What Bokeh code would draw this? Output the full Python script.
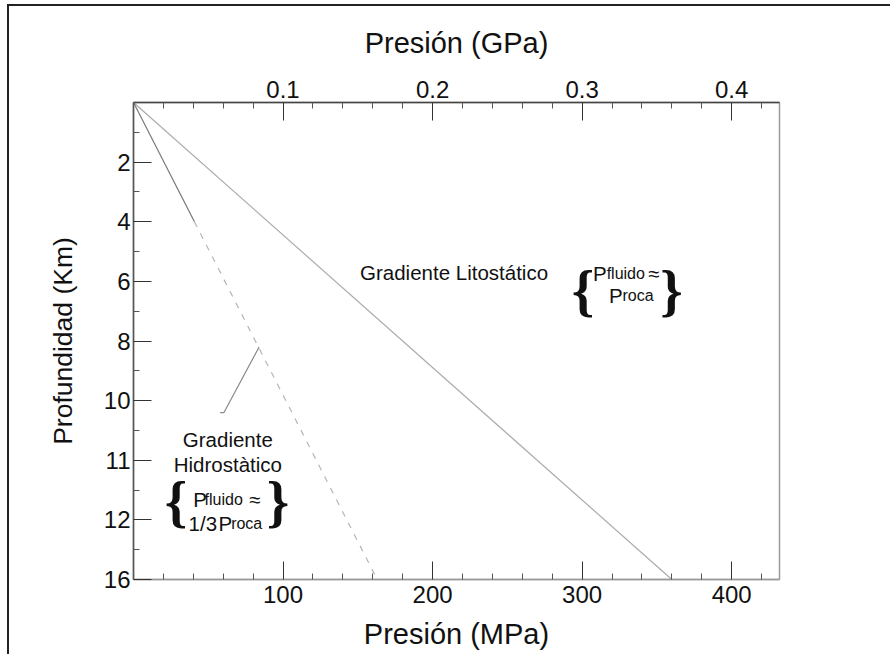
from bokeh.plotting import figure
from bokeh.models import Range1d, LinearAxis, FixedTicker, Label
from bokeh.embed import file_html
from bokeh.resources import INLINE

# ---------------- data ----------------
litho_depth_km = [0, 16]
litho_pressure_mpa = [0, 360]

hydro_solid_depth_km = [0, 4]
hydro_solid_pressure_mpa = [0, 40.75]
hydro_dash_depth_km = [4, 16]
hydro_dash_pressure_mpa = [40.75, 163]

leader_pressure_mpa = [58, 60.5, 84]
leader_depth_km = [10.4, 10.4, 8.2]

x_major_ticks = [100, 200, 300, 400]
x_minor_ticks = [20, 40, 60, 80, 120, 140, 160, 180, 220, 240, 260, 280,
                 320, 340, 360, 380, 420]
gpa_major_ticks = [0.1, 0.2, 0.3, 0.4]
gpa_minor_ticks = [0.02, 0.04, 0.06, 0.08, 0.12, 0.14, 0.16, 0.18, 0.22, 0.24,
                   0.26, 0.28, 0.32, 0.34, 0.36, 0.38, 0.42]
y_major_ticks = [2, 4, 6, 8, 10, 12, 14, 16]
y_tick_labels = ["2", "4", "6", "8", "10", "11", "12", "16"]
y_minor_ticks = [1, 3, 5, 7, 9, 11, 13, 15]

FONT = "Liberation Sans"
BRACE_FONT = "Liberation Serif"

p = figure(width=883, height=650,
           x_range=Range1d(0, 432), y_range=Range1d(16, 0),
           output_backend="svg", toolbar_location=None,
           min_border_left=124, min_border_right=113,
           min_border_top=96, min_border_bottom=77,
           background_fill_color="white", border_fill_color="white")
p.styles = {"border-left": "2px solid #222", "border-top": "2px solid #222",
            "margin-top": "4px", "margin-left": "7px"}

p.xgrid.visible = False
p.ygrid.visible = False
p.outline_line_color = "#9a9a9a"
p.outline_line_width = 1.5

p.extra_x_ranges = {"gpa": Range1d(0, 0.432)}
top_axis = LinearAxis(x_range_name="gpa",
                      ticker=FixedTicker(ticks=gpa_major_ticks, minor_ticks=gpa_minor_ticks))
p.add_layout(top_axis, "above")

bottom_axis = p.below[0]
bottom_axis.ticker = FixedTicker(ticks=x_major_ticks, minor_ticks=x_minor_ticks)
left_axis = p.left[0]
left_axis.ticker = FixedTicker(ticks=y_major_ticks, minor_ticks=y_minor_ticks)
left_axis.major_label_overrides = dict(zip(y_major_ticks, y_tick_labels))

bottom_axis.axis_label = "Presión (MPa)"
top_axis.axis_label = "Presión (GPa)"
left_axis.axis_label = "Profundidad (Km)"

for ax, line_col in [(bottom_axis, "#9a9a9a"), (top_axis, "#444"), (left_axis, "#555")]:
    ax.axis_line_color = line_col
    ax.axis_line_width = 1.5
    ax.major_tick_in = 18
    ax.major_tick_out = 0
    ax.minor_tick_in = 6
    ax.minor_tick_out = 0
    ax.major_tick_line_color = "#333"
    ax.minor_tick_line_color = "#555"
    ax.major_label_text_font = FONT
    ax.major_label_text_font_size = "24px"
    ax.major_label_text_color = "#111"
    ax.axis_label_text_font = FONT
    ax.axis_label_text_font_size = "29px"
    ax.axis_label_text_font_style = "normal"
    ax.axis_label_text_color = "#111"

left_axis.axis_label_text_font_size = "26.5px"
bottom_axis.major_label_standoff = 6
top_axis.major_label_standoff = 5
left_axis.major_label_standoff = 3
bottom_axis.axis_label_standoff = 12
top_axis.axis_label_standoff = 19
left_axis.axis_label_standoff = 23

# ---------------- lines ----------------
p.line(litho_pressure_mpa, litho_depth_km, line_color="#ababab", line_width=1.2)
p.line(hydro_solid_pressure_mpa, hydro_solid_depth_km, line_color="#777", line_width=1.2)
p.line(hydro_dash_pressure_mpa, hydro_dash_depth_km, line_color="#b5b5b5",
       line_width=1.2, line_dash="6 7")
p.line(leader_pressure_mpa, leader_depth_km, line_color="#888", line_width=1.2)

# ---------------- texts ----------------
def add_text(x, y, text, size="20.5px", align="left", baseline="alphabetic",
             font=FONT, style="normal"):
    p.add_layout(Label(x=x, y=y, text=text, text_font=font, text_font_size=size,
                       text_font_style=style, text_align=align,
                       text_baseline=baseline, text_color="#111"))

# lithostatic annotation
add_text(151.5, 5.70, "Gradiente Litostático")
add_text(300.5, 6.30, "{", size="57px", align="center", font=BRACE_FONT, style="bold")
add_text(359.8, 6.30, "}", size="57px", align="center", font=BRACE_FONT, style="bold")
add_text(307.2, 5.75, "P")
add_text(316.4, 5.75, "fluido", size="16px")
add_text(344.1, 5.75, "≈")
add_text(318.0, 6.48, "P")
add_text(327.0, 6.48, "roca", size="16px")

# hydrostatic annotation
add_text(63.1, 11.29, "Gradiente", align="center")
add_text(63.1, 12.13, "Hidrostàtico", align="center")
add_text(28.4, 13.39, "{", size="57px", align="center", font=BRACE_FONT, style="bold")
add_text(96.6, 13.39, "}", size="57px", align="center", font=BRACE_FONT, style="bold")
add_text(39.9, 13.32, "P")
add_text(47.5, 13.32, "fluido", size="16px")
add_text(77.3, 13.32, "≈")
add_text(36.8, 14.11, "1/3")
add_text(56.8, 14.11, "P")
add_text(65.3, 14.11, "roca", size="16px")

open("out.html", "w").write(file_html(p, INLINE))
